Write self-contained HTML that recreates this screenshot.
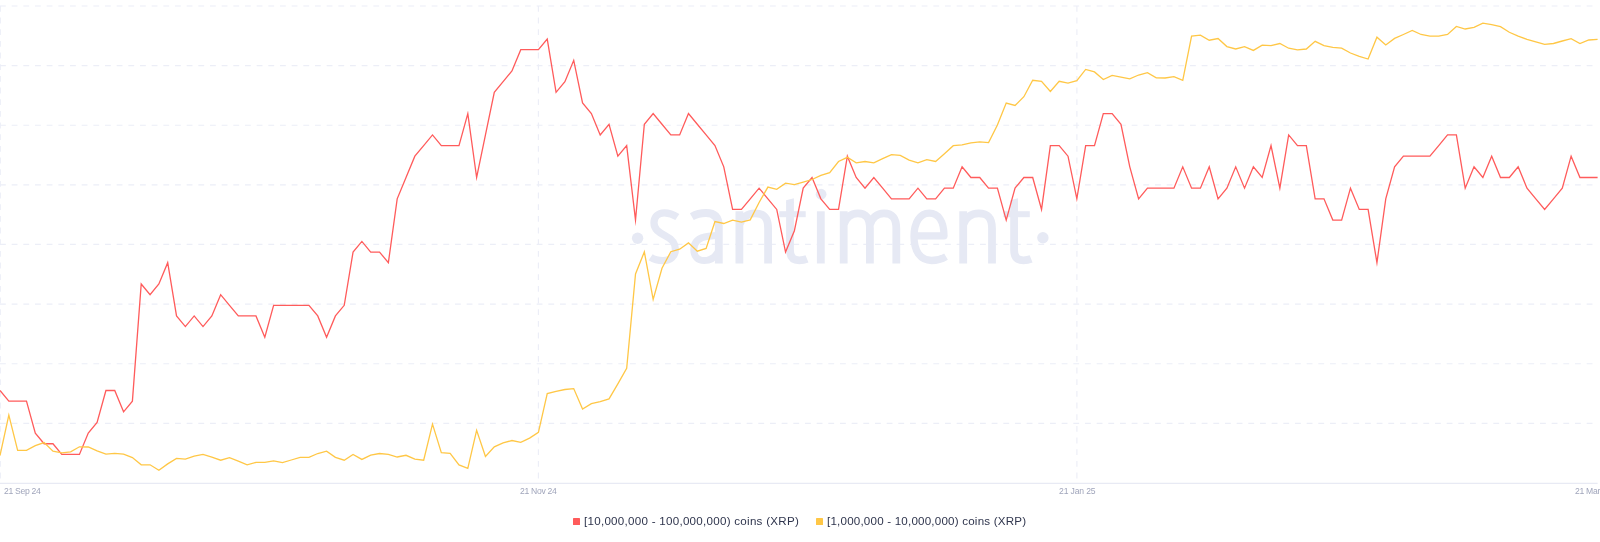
<!DOCTYPE html>
<html><head><meta charset="utf-8"><title>chart</title>
<style>
html,body{margin:0;padding:0;background:#fff;}
body{width:1600px;height:542px;overflow:hidden;position:relative;font-family:"Liberation Sans",sans-serif;}
svg{position:absolute;left:0;top:0;display:block}
.tick{will-change:transform;position:absolute;top:486.2px;font-size:8.6px;line-height:10px;color:#a0a5bb;white-space:nowrap;letter-spacing:-0.29px}
.leg{will-change:transform;position:absolute;top:514px;height:14px;line-height:14px;font-size:11.6px;letter-spacing:0.265px;color:#2f354d;white-space:nowrap;}
.sq{position:absolute;top:518px;width:7px;height:7px;border-radius:0.6px}
</style></head><body>
<svg width="1600" height="542" viewBox="0 0 1600 542">
<g stroke="#eceef7" stroke-width="1.15" stroke-dasharray="5.8333 5.8333" fill="none"><line x1="0" y1="6.0" x2="1597.6" y2="6.0"/><line x1="0" y1="65.6" x2="1597.6" y2="65.6"/><line x1="0" y1="125.2" x2="1597.6" y2="125.2"/><line x1="0" y1="184.8" x2="1597.6" y2="184.8"/><line x1="0" y1="244.4" x2="1597.6" y2="244.4"/><line x1="0" y1="304.1" x2="1597.6" y2="304.1"/><line x1="0" y1="363.7" x2="1597.6" y2="363.7"/><line x1="0" y1="423.4" x2="1597.6" y2="423.4"/><line x1="0.3" y1="5.9" x2="0.3" y2="483"/><line x1="538.4" y1="5.9" x2="538.4" y2="483"/><line x1="1076.9" y1="5.9" x2="1076.9" y2="483"/></g>
<g fill="none" stroke="#e6e9f4" stroke-width="7.8" stroke-linecap="butt" stroke-linejoin="round">
<path stroke-width="7.3" d="M677.3,217 C673,214.2 668.5,212.9 664.3,212.9 C658,212.9 654,217 654,222.8 C654,229.3 658.7,232.3 664.8,235.4 C671.2,238.6 675.4,242 675.4,249.3 C675.4,256.3 670.5,260.6 663,260.6 C658,260.6 653.7,259.3 650.6,257.2"/>
<path stroke-width="7.8" d="M691.8,216.6 C696,214.2 700.8,213 706,213 C714.5,213 718.8,217.5 718.8,226.5 V263.5"/>
<path stroke-width="7" d="M718.8,235.3 L708.5,236.2 C698.5,237.2 693.8,242 693.8,249.8 C693.8,256.8 698,260.6 704.2,260.6 C710.6,260.6 715.8,256.6 718.8,250.5"/>
<path d="M739.4,263.5V211.3 M739.4,225 C740.9,218 747.4,213.3 754.9,213.3 C764.6,213.3 768.1,218.5 768.1,228.5 V263.5"/>
<path d="M790,202 V250 C790,257.5 793.5,260.3 799.3,260.3 C802.3,260.3 804.8,259.8 807,258.9"/><path d="M786.1,200.2 L793.9,198.3 V203 H786.1Z" fill="#e6e9f4" stroke="none"/><path d="M779.3,214.2 H805.7" stroke-width="6"/>
<path d="M820.8,263.5V211.3"/>
<path d="M843.7,263.5V211.3 M843.7,225 C845.2,218 851.2,213.3 857.7,213.3 C866.2,213.2 869.9,218.5 869.9,228.5 V263.5 M869.9,225 C871.4,218 877.4,213.3 883.9,213.3 C892.4,213.2 896.3,218.5 896.3,228.5 V263.5"/>
<path stroke-width="7.3" d="M914.5,235.8 H944 C944,221.5 938.5,213.2 929.3,213.2 C920,213.2 914,222.5 914,236.6 C914,251.6 920.6,260.5 931.6,260.5 C937.4,260.5 942,259 946,256.6"/>
<path d="M963.2,263.5V211.3 M963.2,225 C964.7,218 971.2,213.3 978.7,213.3 C988.5,213.3 992.0,218.5 992.0,228.5 V263.5"/>
<path d="M1014.1,202 V250 C1014.1,257.5 1017.6,260.3 1023.4,260.3 C1026.4,260.3 1028.9,259.8 1031.1,258.9"/><path d="M1010.2,200.2 L1018.0,198.3 V203 H1010.2Z" fill="#e6e9f4" stroke="none"/><path d="M1003.4,214.2 H1029.8" stroke-width="6"/>
</g>
<g fill="#e6e9f4"><circle cx="637.6" cy="238.3" r="5.7"/><circle cx="821.1" cy="194.2" r="5.4"/><circle cx="1042.9" cy="237.7" r="5.7"/></g>
<line x1="0" y1="483.4" x2="1597.6" y2="483.4" stroke="#e8eaf4" stroke-width="1.15"/>
<polyline fill="none" stroke="#ff5b5b" stroke-width="1.3" stroke-linejoin="miter" stroke-miterlimit="10" points="0.0,390.5 8.83,401.15 17.65,401.15 26.48,401.15 35.31,433.1 44.13,443.75 52.96,443.75 61.79,454.4 70.61,454.4 79.44,454.4 88.27,433.1 97.09,422.45 105.92,390.5 114.74,390.5 123.57,411.8 132.4,401.15 141.22,284.0 150.05,294.65 158.88,284.0 167.7,262.7 176.53,315.95 185.36,326.6 194.18,315.95 203.01,326.6 211.84,315.95 220.66,294.65 229.49,305.3 238.32,315.95 247.14,315.95 255.97,315.95 264.8,337.25 273.62,305.3 282.45,305.3 291.28,305.3 300.1,305.3 308.93,305.3 317.75,315.95 326.58,337.25 335.41,315.95 344.23,305.3 353.06,252.05 361.89,241.4 370.71,252.05 379.54,252.05 388.37,262.7 397.19,198.8 406.02,177.5 414.85,156.2 423.67,145.55 432.5,134.9 441.33,145.55 450.15,145.55 458.98,145.55 467.81,113.6 476.63,177.5 485.46,134.9 494.29,92.3 503.11,81.65 511.94,71.0 520.76,49.7 529.59,49.7 538.42,49.7 547.24,39.05 556.07,92.3 564.9,81.65 573.72,60.35 582.55,102.95 591.38,113.6 600.2,134.9 609.03,124.25 617.86,156.2 626.68,145.55 635.51,220.1 644.34,124.25 653.16,113.6 661.99,124.25 670.82,134.9 679.64,134.9 688.47,113.6 697.3,124.25 706.12,134.9 714.95,145.55 723.77,166.85 732.6,209.45 741.43,209.45 750.25,198.8 759.08,188.15 767.91,198.8 776.73,209.45 785.56,252.05 794.39,230.75 803.21,188.15 812.04,177.5 820.87,198.8 829.69,209.45 838.52,209.45 847.35,156.2 856.17,177.5 865.0,188.15 873.83,177.5 882.65,188.15 891.48,198.8 900.3,198.8 909.13,198.8 917.96,188.15 926.78,198.8 935.61,198.8 944.44,188.15 953.26,188.15 962.09,166.85 970.92,177.5 979.74,177.5 988.57,188.15 997.4,188.15 1006.22,220.1 1015.05,188.15 1023.88,177.5 1032.7,177.5 1041.53,209.45 1050.36,145.55 1059.18,145.55 1068.01,156.2 1076.84,198.8 1085.66,145.55 1094.49,145.55 1103.31,113.6 1112.14,113.6 1120.97,124.25 1129.79,166.85 1138.62,198.8 1147.45,188.15 1156.27,188.15 1165.1,188.15 1173.93,188.15 1182.75,166.85 1191.58,188.15 1200.41,188.15 1209.23,166.85 1218.06,198.8 1226.89,188.15 1235.71,166.85 1244.54,188.15 1253.37,166.85 1262.19,177.5 1271.02,145.55 1279.85,188.15 1288.67,134.9 1297.5,145.55 1306.32,145.55 1315.15,198.8 1323.98,198.8 1332.8,220.1 1341.63,220.1 1350.46,188.15 1359.28,209.45 1368.11,209.45 1376.94,262.7 1385.76,198.8 1394.59,166.85 1403.42,156.2 1412.24,156.2 1421.07,156.2 1429.9,156.2 1438.72,145.55 1447.55,134.9 1456.38,134.9 1465.2,188.15 1474.03,166.85 1482.86,177.5 1491.68,156.2 1500.51,177.5 1509.33,177.5 1518.16,166.85 1526.99,188.15 1535.81,198.8 1544.64,209.45 1553.47,198.8 1562.29,188.15 1571.12,156.2 1579.95,177.5 1588.77,177.5 1597.6,177.5"/>
<polyline fill="none" stroke="#ffc746" stroke-width="1.3" stroke-linejoin="miter" stroke-miterlimit="10" points="0.0,455.6 8.83,414.99 17.65,450.4 26.48,450.4 35.31,445.7 44.13,442.6 52.96,451.2 61.79,452.9 70.61,451.8 79.44,446.8 88.27,447.0 97.09,450.9 105.92,454.2 114.74,453.4 123.57,454.2 132.4,457.6 141.22,464.8 150.05,464.8 158.88,470.3 167.7,463.9 176.53,458.4 185.36,459.2 194.18,456.1 203.01,454.3 211.84,457.2 220.66,460.2 229.49,457.6 238.32,461.2 247.14,464.9 255.97,462.4 264.8,462.4 273.62,460.8 282.45,462.6 291.28,460.0 300.1,457.4 308.93,457.4 317.75,453.5 326.58,451.1 335.41,457.4 344.23,460.2 353.06,454.5 361.89,459.4 370.71,455.1 379.54,453.5 388.37,454.4 397.19,457.0 406.02,455.3 414.85,459.2 423.67,460.2 432.5,424.12 441.33,452.7 450.15,453.3 458.98,464.9 467.81,468.3 476.63,430.39 485.46,456.4 494.29,446.8 503.11,442.9 511.94,440.5 520.76,442.3 529.59,438.1 538.42,432.4 547.24,393.6 556.07,391.3 564.9,389.5 573.72,388.6 582.55,409.0 591.38,403.7 600.2,401.6 609.03,398.9 617.86,383.9 626.68,368.3 635.51,274.0 644.34,251.88 653.16,299.31 661.99,268.3 670.82,251.7 679.64,249.2 688.47,242.9 697.3,251.2 706.12,248.4 714.95,221.6 723.77,223.5 732.6,220.2 741.43,222.1 750.25,219.9 759.08,202.5 767.91,187.1 776.73,189.3 785.56,183.1 794.39,184.7 803.21,182.2 812.04,179.5 820.87,175.3 829.69,172.6 838.52,161.5 847.35,157.3 856.17,162.9 865.0,161.5 873.83,162.9 882.65,158.7 891.48,154.6 900.3,155.4 909.13,160.1 917.96,162.9 926.78,159.6 935.61,161.5 944.44,153.7 953.26,145.7 962.09,144.9 970.92,142.8 979.74,141.8 988.57,142.6 997.4,125.1 1006.22,103.0 1015.05,105.5 1023.88,96.7 1032.7,80.3 1041.53,81.3 1050.36,91.5 1059.18,81.3 1068.01,83.1 1076.84,80.6 1085.66,69.4 1094.49,71.9 1103.31,79.6 1112.14,75.4 1120.97,77.1 1129.79,78.9 1138.62,75.0 1147.45,72.6 1156.27,77.8 1165.1,78.0 1173.93,76.7 1182.75,80.3 1191.58,36.0 1200.41,35.2 1209.23,40.2 1218.06,38.5 1226.89,46.6 1235.71,49.0 1244.54,46.6 1253.37,50.4 1262.19,45.2 1271.02,45.7 1279.85,43.5 1288.67,48.2 1297.5,49.9 1306.32,49.0 1315.15,41.3 1323.98,45.7 1332.8,47.4 1341.63,48.2 1350.46,53.0 1359.28,56.3 1368.11,59.0 1376.94,37.2 1385.76,45.0 1394.59,38.4 1403.42,34.5 1412.24,30.4 1421.07,34.5 1429.9,36.2 1438.72,36.2 1447.55,34.5 1456.38,26.4 1465.2,29.0 1474.03,27.3 1482.86,23.2 1491.68,24.7 1500.51,26.6 1509.33,32.3 1518.16,36.2 1526.99,39.3 1535.81,41.9 1544.64,44.3 1553.47,43.5 1562.29,41.0 1571.12,38.7 1579.95,43.5 1588.77,40.0 1597.6,39.3"/>
</svg>
<div class="tick" style="left:4px">21 Sep 24</div>
<div class="tick" style="left:520.4px">21 Nov 24</div>
<div class="tick" style="left:1058.6px;letter-spacing:-0.14px">21 Jan 25</div>
<div class="tick" style="left:1575px">21 Mar 25</div>
<div class="sq" style="left:573.4px;background:#ff5b5b"></div>
<div class="leg" style="left:584.1px">[10,000,000 - 100,000,000) coins (XRP)</div>
<div class="sq" style="left:816px;background:#ffc746"></div>
<div class="leg" style="left:827.1px;letter-spacing:0.2px">[1,000,000 - 10,000,000) coins (XRP)</div>
</body></html>
